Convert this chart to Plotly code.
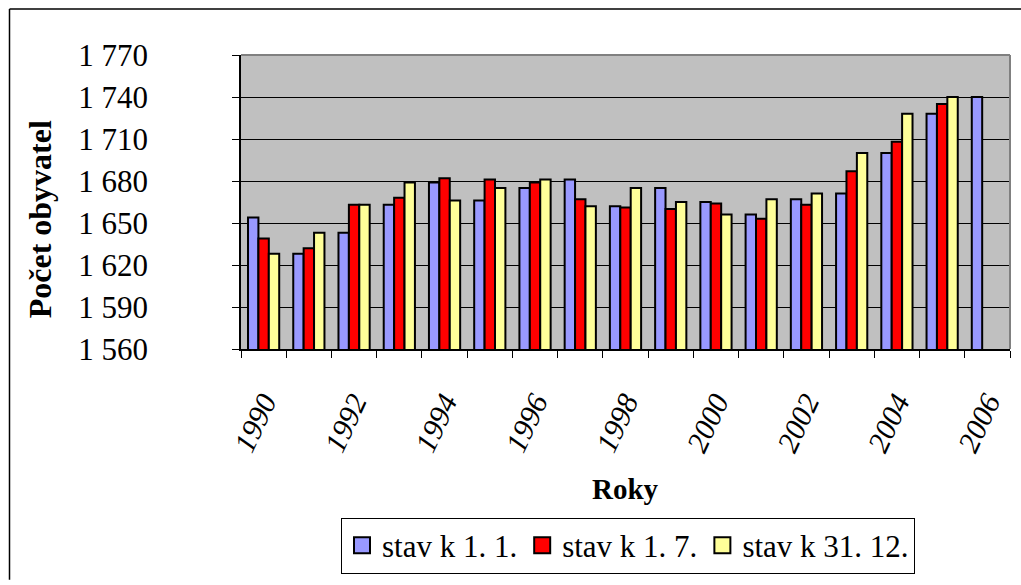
import plotly.graph_objects as go

years = list(range(1990, 2007))
stav_1_1 = [1654, 1628, 1643, 1663, 1679, 1666, 1675, 1681, 1662, 1675, 1665, 1656, 1667, 1671, 1700, 1728, 1740]
stav_1_7 = [1639, 1632, 1663, 1668, 1682, 1681, 1679, 1667, 1661, 1660, 1664, 1653, 1663, 1687, 1708, 1735, None]
stav_31_12 = [1628, 1643, 1663, 1679, 1666, 1675, 1681, 1662, 1675, 1665, 1656, 1667, 1671, 1700, 1728, 1740, None]
series_names = ["stav k 1. 1.", "stav k 1. 7.", "stav k 31. 12."]
series_colors = ["#9999FF", "#FF0000", "#FFFF99"]
x_tick_years = list(range(1990, 2007, 2))
x_tick_labels = [str(y) for y in x_tick_years]
y_title = "Počet obyvatel"
x_title = "Roky"

W, H = 1021, 585
L, R, T, B = 241, 1010, 55, 352
pw, ph = R - L, B - T

def px(x):
    return (x - L) / pw

def py(y):
    return (B - y) / ph

FONT = "Liberation Serif, Times New Roman, serif"

fig = go.Figure()
for name, vals, col in zip(series_names, [stav_1_1, stav_1_7, stav_31_12], series_colors):
    fig.add_trace(go.Bar(
        x=years, y=vals, name=name, showlegend=False,
        marker=dict(color=col, line=dict(color="black", width=2)),
    ))
for name, col in zip(series_names, series_colors):
    fig.add_trace(go.Scatter(
        x=[None], y=[None], name=name, mode="markers",
        marker=dict(symbol="square", size=20, color=col, line=dict(color="black", width=2)),
    ))

fig.update_layout(
    width=W, height=H,
    margin=dict(l=L, r=W - R, t=T, b=H - B, pad=0),
    paper_bgcolor="white",
    plot_bgcolor="#C0C0C0",
    barmode="group",
    bargap=0.31,
    bargroupgap=0,
    separators=", ",
    font=dict(family=FONT, color="black", size=30),
    showlegend=True,
    legend=dict(
        orientation="h",
        x=px(628), y=py(579), xanchor="center", yanchor="bottom",
        bordercolor="black", borderwidth=1,
        font=dict(family=FONT, size=31),
        itemwidth=30, itemsizing="trace",
        tracegroupgap=0,
    ),
    xaxis=dict(
        range=[1989.5, 2006.5],
        tickvals=x_tick_years,
        ticktext=["<i>" + t + "</i>" for t in x_tick_labels],
        tickangle=-65,
        tickfont=dict(family=FONT, size=30, style="italic"),
        ticks="",
        ticklabelstandoff=22,
        showgrid=False,
        zeroline=False,
        showline=True, linecolor="black", linewidth=1.5,
        minor=dict(ticks="outside", tick0=1989.5, dtick=1, ticklen=7,
                   tickcolor="black", tickwidth=1, showgrid=False),
    ),
    yaxis=dict(
        range=[1560, 1770],
        tick0=1560, dtick=30,
        separatethousands=True,
        ticks="outside", ticklen=7, tickcolor="black", tickwidth=1,
        tickfont=dict(family=FONT, size=31),
        ticklabelstandoff=78,
        showgrid=True, gridcolor="black", gridwidth=1,
        zeroline=False,
        showline=True, linecolor="black", linewidth=1.5,
    ),
    shapes=[
        dict(type="line", xref="paper", yref="paper", x0=0, x1=1, y0=1, y1=1,
             line=dict(color="#808080", width=2)),
        dict(type="line", xref="paper", yref="paper", x0=1, x1=1, y0=0, y1=1,
             line=dict(color="#808080", width=2)),
        dict(type="line", xref="paper", yref="paper", x0=px(9.5), x1=px(1021), y0=py(8.5), y1=py(8.5),
             line=dict(color="black", width=1.5)),
        dict(type="line", xref="paper", yref="paper", x0=px(9.5), x1=px(9.5), y0=py(8.5), y1=py(585),
             line=dict(color="black", width=1.5)),
    ],
    annotations=[
        dict(text="<b>" + y_title + "</b>", xref="paper", yref="paper",
             x=px(40), y=py(221), xanchor="center", yanchor="middle",
             textangle=-90, showarrow=False, font=dict(family=FONT, size=32)),
        dict(text="<b>" + x_title + "</b>", xref="paper", yref="paper",
             x=px(625), y=py(493), xanchor="center", yanchor="middle",
             showarrow=False, font=dict(family=FONT, size=29)),
    ],
)

fig.write_html(
    "out.html",
    config={"displayModeBar": False},
    post_script="document.body.style.margin='0';document.body.style.overflow='hidden';",
)
